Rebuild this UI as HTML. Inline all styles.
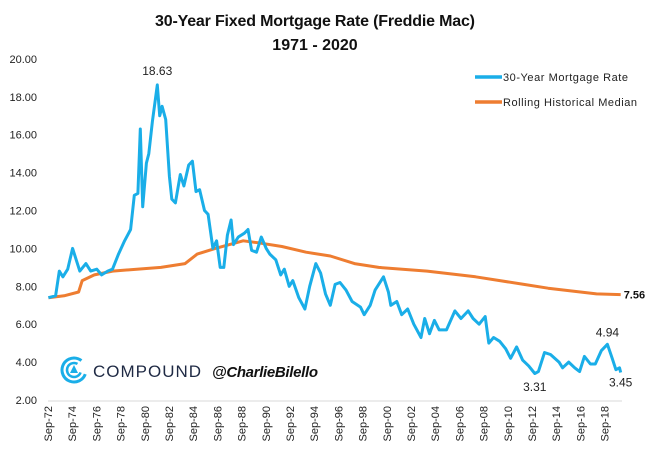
<!DOCTYPE html>
<html><head><meta charset="utf-8"><style>
body{margin:0;background:#fff;width:651px;height:451px;overflow:hidden;font-family:"Liberation Sans",Calibri,sans-serif}
</style></head><body>
<svg id="c" width="651" height="451" font-family="Liberation Sans, sans-serif">
<text x="315" y="26" text-anchor="middle" font-size="16" font-weight="bold" fill="#111" textLength="320">30-Year Fixed Mortgage Rate (Freddie Mac)</text>
<text x="315" y="50" text-anchor="middle" font-size="16" font-weight="bold" fill="#111">1971 - 2020</text>
<g>
<line x1="475" y1="77" x2="502" y2="77" stroke="#1aaee8" stroke-width="3.5"/>
<text x="503" y="81" font-size="11" fill="#222" textLength="125">30-Year Mortgage Rate</text>
<line x1="475" y1="102" x2="502" y2="102" stroke="#ee7d31" stroke-width="3.5"/>
<text x="503" y="106" font-size="11" fill="#222" textLength="134">Rolling Historical Median</text>
</g>
<g>
<circle cx="74" cy="370" r="12" fill="none" stroke="#1aaee8" stroke-width="3" stroke-dasharray="60 16" transform="rotate(20 74 370)"/>
<circle cx="74" cy="370" r="7" fill="none" stroke="#1aaee8" stroke-width="2.5" stroke-dasharray="34 10" transform="rotate(20 74 370)"/>
<polygon points="74,365 70,373 78,373" fill="#1aaee8"/>
<text x="93" y="377" font-size="17" fill="#1f2a44" textLength="108">COMPOUND</text>
<text x="212" y="377" font-size="15" font-weight="bold" font-style="italic" fill="#111" textLength="106">@CharlieBilello</text>
</g>
<g id="yaxis"></g>
<g id="xaxis"></g>
<g id="series"></g>
</svg>
<script>
const rateYears=[1972.7,1973.3,1973.6,1973.9,1974.3,1974.7,1975.0,1975.3,1975.8,1976.2,1976.7,1977.1,1977.6,1978.0,1978.5,1979.0,1979.5,1979.8,1980.1,1980.3,1980.5,1980.8,1981.0,1981.3,1981.7,1981.9,1982.1,1982.4,1982.7,1982.9,1983.2,1983.6,1983.9,1984.3,1984.6,1984.9,1985.2,1985.6,1985.9,1986.3,1986.6,1986.9,1987.2,1987.5,1987.8,1988.0,1988.4,1988.9,1989.2,1989.5,1989.9,1990.3,1990.7,1991.0,1991.5,1991.9,1992.2,1992.6,1992.9,1993.4,1993.9,1994.3,1994.8,1995.2,1995.6,1996.0,1996.4,1996.8,1997.3,1997.8,1998.5,1998.8,1999.3,1999.7,2000.4,2000.8,2001.0,2001.5,2001.9,2002.4,2002.9,2003.5,2003.8,2004.2,2004.6,2005.0,2005.6,2006.3,2006.8,2007.4,2007.8,2008.3,2008.8,2009.1,2009.5,2010.0,2010.5,2010.9,2011.4,2011.9,2012.4,2012.9,2013.2,2013.7,2014.2,2014.9,2015.2,2015.7,2016.2,2016.6,2017.0,2017.5,2017.9,2018.4,2018.9,2019.3,2019.6,2019.9,2020.0];
const rateValues=[7.4,7.5,8.8,8.5,8.9,10.0,9.4,8.8,9.2,8.8,8.9,8.6,8.8,8.9,9.7,10.4,11.0,12.8,12.9,16.3,12.2,14.5,15.0,16.7,18.63,17.0,17.5,16.8,13.8,12.6,12.4,13.9,13.3,14.4,14.6,13.0,13.1,12.0,11.8,10.0,10.4,9.0,9.0,10.7,11.5,10.2,10.6,10.8,11.0,9.9,9.8,10.6,10.0,9.7,9.4,8.6,8.9,8.0,8.3,7.4,6.8,8.0,9.2,8.7,7.6,7.0,8.1,8.2,7.8,7.2,6.9,6.5,7.0,7.8,8.5,7.7,7.0,7.2,6.5,6.8,6.0,5.3,6.3,5.5,6.2,5.7,5.7,6.7,6.3,6.7,6.3,6.0,6.4,5.0,5.3,5.1,4.7,4.2,4.8,4.1,3.8,3.4,3.5,4.5,4.4,4.0,3.7,4.0,3.7,3.5,4.3,3.9,3.9,4.6,4.94,4.2,3.6,3.7,3.45];
const medYears=[1972.7,1974.0,1975.2,1975.5,1976.5,1978,1980,1982,1984,1985,1986.5,1988.8,1990,1992,1994,1996,1998,2000,2004,2008,2012,2014,2018,2020];
const medValues=[7.4,7.5,7.7,8.3,8.6,8.8,8.9,9.0,9.2,9.7,10.0,10.4,10.3,10.1,9.8,9.6,9.2,9.0,8.8,8.5,8.1,7.9,7.6,7.56];
const yTicks=[2,4,6,8,10,12,14,16,18,20];
const xTickYears=[1972,1974,1976,1978,1980,1982,1984,1986,1988,1990,1992,1994,1996,1998,2000,2002,2004,2006,2008,2010,2012,2014,2016,2018];
const ann=[{t:1981.7,v:18.63,dy:-10,txt:"18.63"},{t:2012.9,v:3.31,dy:16,txt:"3.31"},{t:2018.9,v:4.94,dy:-8,txt:"4.94"},{t:2020.0,v:3.45,dy:14,txt:"3.45"}];
const NS="http://www.w3.org/2000/svg";
const X=t=>48+(t-1972.67)*12.1;
const Y=v=>400-(v-2)*18.95;
function mk(tag,attrs,parent){const e=document.createElementNS(NS,tag);for(const k in attrs)e.setAttribute(k,attrs[k]);parent.appendChild(e);return e;}
const ya=document.getElementById('yaxis'),xa=document.getElementById('xaxis'),se=document.getElementById('series');
yTicks.forEach(v=>{const t=mk('text',{x:37,y:Y(v)+4,'text-anchor':'end','font-size':11,fill:'#222'},ya);t.textContent=v.toFixed(2);

});
const ax=mk('line',{x1:48,y1:401,x2:622,y2:401,stroke:'#d9d9d9','stroke-width':1},xa);


xTickYears.forEach(y=>{const x=X(y+0.67);const t=mk('text',{x:0,y:0,'text-anchor':'end','font-size':11,fill:'#222',transform:`translate(${x+4},406) rotate(-90)`},xa);t.textContent='Sep-'+String(y).slice(2);

});
function path(xs,vs){return xs.map((t,i)=>(i?'L':'M')+X(t).toFixed(1)+','+Y(vs[i]).toFixed(1)).join(' ');}
const m=mk('path',{d:path(medYears,medValues),fill:'none',stroke:'#ee7d31','stroke-width':3,'stroke-linejoin':'round'},se);


const r=mk('path',{d:path(rateYears,rateValues),fill:'none',stroke:'#1aaee8','stroke-width':3,'stroke-linejoin':'round'},se);


ann.forEach(a=>{const t=mk('text',{x:X(a.t),y:Y(a.v)+a.dy,'text-anchor':'middle','font-size':12,fill:'#222'},se);t.textContent=a.txt;

});
const e=mk('text',{x:X(2020)+3,y:Y(7.56)+4,'font-size':11,'font-weight':'bold',fill:'#111'},se);e.textContent=medValues[medValues.length-1].toFixed(2);


</script>
</body></html>
